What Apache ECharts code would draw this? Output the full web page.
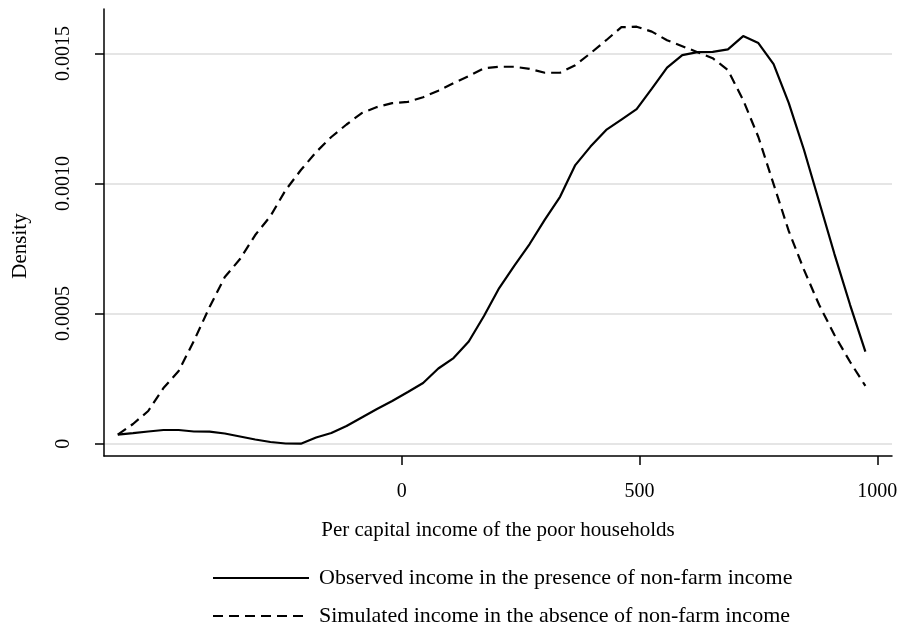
<!DOCTYPE html>
<html>
<head>
<meta charset="utf-8">
<script src="https://cdn.jsdelivr.net/npm/echarts@6/dist/echarts.min.js"></script>
<style>
html,body{margin:0;padding:0;background:#fff;}
#chart{width:902px;height:627px;}
</style>
</head>
<body>
<div id="chart"></div>
<script>
const incomeX = [-597,-565,-533,-501,-469,-437,-404,-372,-340,-308,-276,-244,-212,-180,-148,-116,-84,-52,-20,13,45,77,109,141,173,205,237,269,301,333,365,397,430,462,494,526,558,590,622,654,686,718,750,782,814,846,878,910,943,975];
const observedDensity = [0.0000346,0.0000404,0.0000469,0.0000526,0.0000526,0.0000469,0.0000461,0.0000392,0.0000277,0.0000161,0.0000065,0.0000008,0,0.0000238,0.0000411,0.000068,0.0001007,0.0001333,0.0001641,0.0001987,0.0002333,0.000289,0.0003293,0.0003928,0.0004908,0.0005984,0.0006848,0.0007675,0.0008616,0.0009492,0.001071,0.001142,0.001206,0.001246,0.001286,0.001365,0.001446,0.001494,0.001505,0.001506,0.001516,0.001567,0.00154,0.001459,0.001309,0.001129,0.000929,0.000729,0.000533,0.0003536];
const simulatedDensity = [0.0000346,0.0000757,0.0001257,0.000214,0.0002794,0.0003947,0.0005253,0.0006406,0.0007098,0.000802,0.000875,0.000975,0.001052,0.001121,0.001179,0.001227,0.001271,0.001294,0.001309,0.001314,0.001332,0.001357,0.001386,0.001413,0.001443,0.001449,0.001449,0.001441,0.001426,0.001426,0.001455,0.001501,0.001551,0.001601,0.001603,0.001584,0.001551,0.001528,0.001505,0.001482,0.001436,0.001321,0.001179,0.000998,0.000817,0.000668,0.000533,0.000418,0.000314,0.000222];
const xTicks = [0, 500, 1000];
const yTicks = [0, 0.0005, 0.0010, 0.0015];
const seriesNames = ['Observed income in the presence of non-farm income', 'Simulated income in the absence of non-farm income'];
const xTitle = 'Per capital income of the poor households';
const yTitle = 'Density';

const FONT = "'Liberation Serif','Times New Roman',serif";
const legendBase = {
  orient: 'vertical', left: 212, padding: 0,
  itemWidth: 96, itemHeight: 14,
  itemStyle: {color: 'rgba(0,0,0,0)', borderColor: 'rgba(0,0,0,0)', borderWidth: 0},
  textStyle: {fontFamily: FONT, fontSize: 22, color: '#000', padding: [0, 0, 0, 5]}
};
const chart = echarts.init(document.getElementById('chart'), null, {renderer: 'canvas'});
chart.setOption({
  animation: false,
  backgroundColor: '#ffffff',
  textStyle: {fontFamily: FONT, color: '#000'},
  grid: {left: 104, right: 10, top: 9, bottom: 171, containLabel: false},
  legend: [
    Object.assign({}, legendBase, {top: 567, data: [seriesNames[0]]}),
    Object.assign({}, legendBase, {top: 605, data: [seriesNames[1]]})
  ],
  xAxis: {
    type: 'value', min: -626, max: 1031,
    name: xTitle, nameLocation: 'middle', nameGap: 64,
    nameTextStyle: {fontFamily: FONT, fontSize: 21, color: '#000'},
    axisLine: {show: true, onZero: false, lineStyle: {color: '#000', width: 1.5}},
    axisTick: {show: true, length: 9, customValues: xTicks, lineStyle: {color: '#000', width: 1.5}},
    axisLabel: {customValues: xTicks, fontFamily: FONT, fontSize: 20, color: '#000', margin: 26,
      formatter: v => String(v)},
    splitLine: {show: false}
  },
  yAxis: {
    type: 'value', min: -0.0000473, max: 0.001671,
    name: yTitle, nameLocation: 'middle', nameGap: 73, nameRotate: 90,
    nameTextStyle: {fontFamily: FONT, fontSize: 21, color: '#000', padding: [0, 27, 0, 0]},
    axisLine: {show: true, onZero: false, lineStyle: {color: '#000', width: 1.5}},
    axisTick: {show: true, length: 9, customValues: yTicks, lineStyle: {color: '#000', width: 1.5}},
    axisLabel: {customValues: yTicks, rotate: 90, fontFamily: FONT, fontSize: 20, color: '#000', margin: 30,
      formatter: v => (v === 0 ? '0' : v.toFixed(4))},
    splitLine: {show: true, lineStyle: {color: '#dcdcdc', width: 1.5}}
  },
  series: [
    {
      name: seriesNames[0], type: 'line', symbol: 'none', smooth: false,
      data: incomeX.map((x, i) => [x, observedDensity[i]]),
      lineStyle: {color: '#000', width: 2.2, type: 'solid'},
      itemStyle: {color: '#000'}
    },
    {
      name: seriesNames[1], type: 'line', symbol: 'none', smooth: false,
      data: incomeX.map((x, i) => [x, simulatedDensity[i]]),
      lineStyle: {color: '#000', width: 2.2, type: [10, 6]},
      itemStyle: {color: '#000'}
    }
  ]
});
</script>
</body>
</html>
